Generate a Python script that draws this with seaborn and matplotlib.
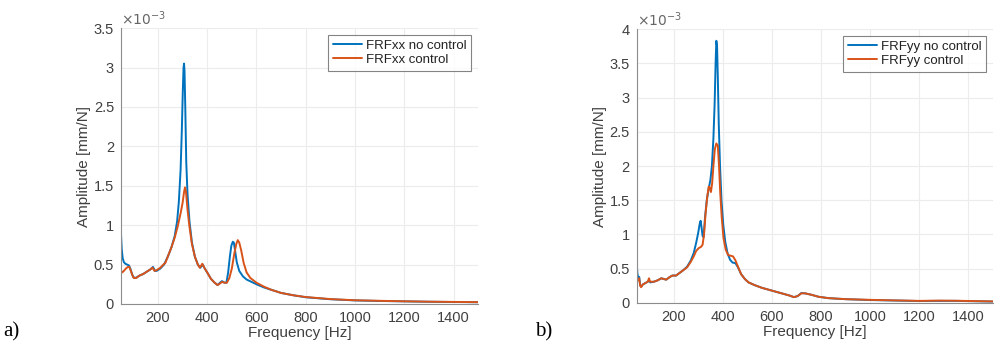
import matplotlib
matplotlib.use("Agg")
import numpy as np
import pandas as pd
import matplotlib.pyplot as plt
import seaborn as sns
from matplotlib.ticker import FuncFormatter

# ---------------- data (amplitudes in 1e-3 mm/N) ----------------
freq_a_nc = [50, 53, 57, 62, 68, 75, 82, 88, 95, 100, 110, 125, 140, 155, 170, 180, 188, 195,
             210, 225, 240, 255, 268, 278, 285, 292, 297, 301, 304, 306, 308, 311, 315, 320,
             328, 338, 350, 362, 372, 382, 390, 400, 415, 430, 442, 452, 460, 470, 478, 485,
             492, 498, 504, 508, 513, 520, 530, 545, 560, 580, 600, 630, 660, 700, 750, 800,
             900, 1000, 1100, 1200, 1300, 1400, 1500]
amp_a_nc = [0.90, 0.70, 0.58, 0.53, 0.51, 0.50, 0.49, 0.45, 0.38, 0.34, 0.33, 0.36, 0.38, 0.41,
            0.44, 0.47, 0.42, 0.42, 0.45, 0.50, 0.60, 0.72, 0.86, 1.05, 1.30, 1.70, 2.20, 2.70,
            3.00, 3.05, 2.95, 2.50, 1.80, 1.40, 1.05, 0.78, 0.60, 0.50, 0.46, 0.50, 0.45, 0.40,
            0.32, 0.27, 0.24, 0.27, 0.29, 0.27, 0.27, 0.40, 0.60, 0.74, 0.79, 0.78, 0.68, 0.53,
            0.42, 0.35, 0.31, 0.28, 0.25, 0.21, 0.18, 0.14, 0.11, 0.085, 0.06, 0.045, 0.038,
            0.033, 0.028, 0.025, 0.022]

freq_a_c = [50, 55, 62, 70, 78, 84, 90, 97, 102, 112, 125, 140, 155, 170, 178, 186, 195, 210,
            222, 230, 240, 255, 268, 280, 292, 300, 306, 310, 314, 320, 328, 338, 350, 362,
            370, 380, 390, 400, 415, 430, 442, 452, 460, 470, 480, 490, 500, 510, 518, 524,
            530, 538, 548, 560, 575, 600, 630, 660, 700, 750, 800, 900, 1000, 1100, 1200,
            1300, 1400, 1500]
amp_a_c = [0.42, 0.40, 0.42, 0.45, 0.47, 0.47, 0.42, 0.36, 0.33, 0.33, 0.36, 0.38, 0.41, 0.44,
           0.46, 0.42, 0.43, 0.46, 0.50, 0.52, 0.60, 0.72, 0.84, 0.98, 1.15, 1.28, 1.42, 1.48,
           1.42, 1.20, 0.98, 0.76, 0.60, 0.50, 0.46, 0.51, 0.45, 0.40, 0.32, 0.27, 0.24, 0.26,
           0.28, 0.27, 0.27, 0.33, 0.45, 0.64, 0.76, 0.81, 0.78, 0.68, 0.52, 0.40, 0.33, 0.27,
           0.22, 0.18, 0.14, 0.11, 0.088, 0.062, 0.047, 0.040, 0.034, 0.029, 0.026, 0.023]

freq_b_nc = [50, 53, 57, 60, 64, 68, 75, 85, 95, 100, 105, 120, 135, 150, 160, 170, 185, 195,
             210, 225, 240, 255, 270, 282, 292, 300, 306, 310, 314, 318, 322, 328, 335, 342,
             350, 356, 362, 367, 371, 374, 377, 380, 384, 389, 395, 402, 410, 420, 430, 440,
             452, 462, 475, 490, 505, 530, 560, 600, 640, 670, 690, 705, 720, 735, 760, 790,
             830, 900, 1000, 1100, 1200, 1280, 1350, 1420, 1500]
amp_b_nc = [0.58, 0.42, 0.36, 0.38, 0.26, 0.24, 0.27, 0.29, 0.31, 0.33, 0.30, 0.31, 0.33, 0.36,
            0.35, 0.34, 0.38, 0.40, 0.40, 0.44, 0.48, 0.53, 0.62, 0.73, 0.88, 1.02, 1.15, 1.20,
            1.10, 0.98, 0.96, 1.25, 1.50, 1.65, 1.80, 2.00, 2.40, 2.90, 3.50, 3.83, 3.75, 3.30,
            2.60, 2.00, 1.50, 1.15, 0.90, 0.72, 0.63, 0.59, 0.58, 0.52, 0.42, 0.35, 0.30, 0.26,
            0.22, 0.18, 0.14, 0.11, 0.085, 0.10, 0.145, 0.14, 0.12, 0.09, 0.07, 0.055, 0.042,
            0.035, 0.028, 0.030, 0.030, 0.025, 0.020]

freq_b_c = [50, 55, 60, 64, 68, 75, 85, 95, 100, 104, 120, 135, 150, 160, 170, 185, 195, 210,
            225, 240, 255, 270, 282, 292, 302, 312, 318, 324, 330, 337, 343, 348, 352, 357,
            362, 368, 374, 380, 385, 390, 396, 403, 412, 422, 432, 442, 452, 462, 475, 490,
            505, 530, 560, 600, 640, 670, 690, 705, 720, 735, 760, 790, 830, 900, 1000, 1100,
            1200, 1280, 1350, 1420, 1500]
amp_b_c = [0.36, 0.33, 0.36, 0.25, 0.23, 0.27, 0.29, 0.31, 0.36, 0.31, 0.31, 0.33, 0.36, 0.35,
           0.34, 0.38, 0.40, 0.40, 0.44, 0.48, 0.52, 0.60, 0.68, 0.76, 0.80, 0.82, 0.85, 1.00,
           1.30, 1.55, 1.70, 1.68, 1.62, 1.75, 2.00, 2.25, 2.33, 2.30, 2.00, 1.60, 1.25, 0.95,
           0.78, 0.70, 0.69, 0.68, 0.62, 0.53, 0.42, 0.35, 0.30, 0.26, 0.22, 0.18, 0.14, 0.11,
           0.085, 0.10, 0.14, 0.14, 0.12, 0.09, 0.07, 0.055, 0.045, 0.037, 0.030, 0.034, 0.032,
           0.027, 0.022]

labels_a = ["FRFxx no control", "FRFxx control"]
labels_b = ["FRFyy no control", "FRFyy control"]
panel_tags = ["a)", "b)"]
x_ticks = [200, 400, 600, 800, 1000, 1200, 1400]
y_ticks_a = [0, 0.5, 1, 1.5, 2, 2.5, 3, 3.5]
y_ticks_b = [0, 0.5, 1, 1.5, 2, 2.5, 3, 3.5, 4]

blue = "#0072BD"
orange = "#D95319"

def make_df(f1, a1, f2, a2, labels):
    d1 = pd.DataFrame({"f": f1, "amp": a1, "series": labels[0]})
    d2 = pd.DataFrame({"f": f2, "amp": a2, "series": labels[1]})
    return pd.concat([d1, d2], ignore_index=True)

df_a = make_df(freq_a_nc, amp_a_nc, freq_a_c, amp_a_c, labels_a)
df_b = make_df(freq_b_nc, amp_b_nc, freq_b_c, amp_b_c, labels_b)

sns.set_style("white")
plt.rcParams["font.family"] = ["Liberation Sans", "DejaVu Sans"]

fig = plt.figure(figsize=(9.98, 3.47), dpi=100)
ax_a = fig.add_axes([0.1212, 0.124, 0.358, 0.795])
ax_b = fig.add_axes([0.638, 0.127, 0.357, 0.789])

text_col = "#404040"

for ax, df, labels, yticks, ytop, tag, tagx in [
        (ax_a, df_a, labels_a, y_ticks_a, 3.5, panel_tags[0], 0.003),
        (ax_b, df_b, labels_b, y_ticks_b, 4.0, panel_tags[1], 0.536)]:
    sns.lineplot(data=df, x="f", y="amp", hue="series", hue_order=labels,
                 palette=[blue, orange], sort=False, estimator=None,
                 linewidth=1.4, ax=ax)
    ax.set_xlim(50, 1500)
    ax.set_ylim(0, ytop)
    ax.set_xticks(x_ticks)
    ax.set_yticks(yticks)
    ax.yaxis.set_major_formatter(FuncFormatter(lambda v, p: "%g" % v))
    ax.grid(True, color="#ececec", linewidth=0.8)
    ax.set_axisbelow(True)
    for s in ["top", "right"]:
        ax.spines[s].set_visible(False)
    for s in ["left", "bottom"]:
        ax.spines[s].set_color("#8c8c8c")
        ax.spines[s].set_linewidth(0.8)
    ax.tick_params(direction="in", length=3, width=0.6, colors="#8c8c8c",
                   labelcolor=text_col, labelsize=10.5, pad=5)
    ax.set_xlabel("Frequency [Hz]", fontsize=11, color=text_col, labelpad=1)
    ax.set_ylabel("Amplitude [mm/N]", fontsize=11, color=text_col, labelpad=2)
    ax.text(0.0, 1.0, r"$\times10^{-3}$", transform=ax.transAxes, ha="left",
            va="bottom", fontsize=10, color="#666666")
    leg = ax.legend(loc="upper right", bbox_to_anchor=(0.98, 0.975), borderaxespad=0,
                    fontsize=9.5, frameon=True, fancybox=False, handlelength=2.2,
                    handletextpad=0.3, borderpad=0.35, labelspacing=0.15)
    leg.get_frame().set_edgecolor("#666666")
    leg.get_frame().set_linewidth(0.8)
    for t in leg.get_texts():
        t.set_color("#222222")
    fig.text(tagx, 0.045, tag, fontsize=15, family=["Liberation Serif", "DejaVu Serif"],
             ha="left", va="center", color="black")

fig.savefig("out.png", dpi=100)
